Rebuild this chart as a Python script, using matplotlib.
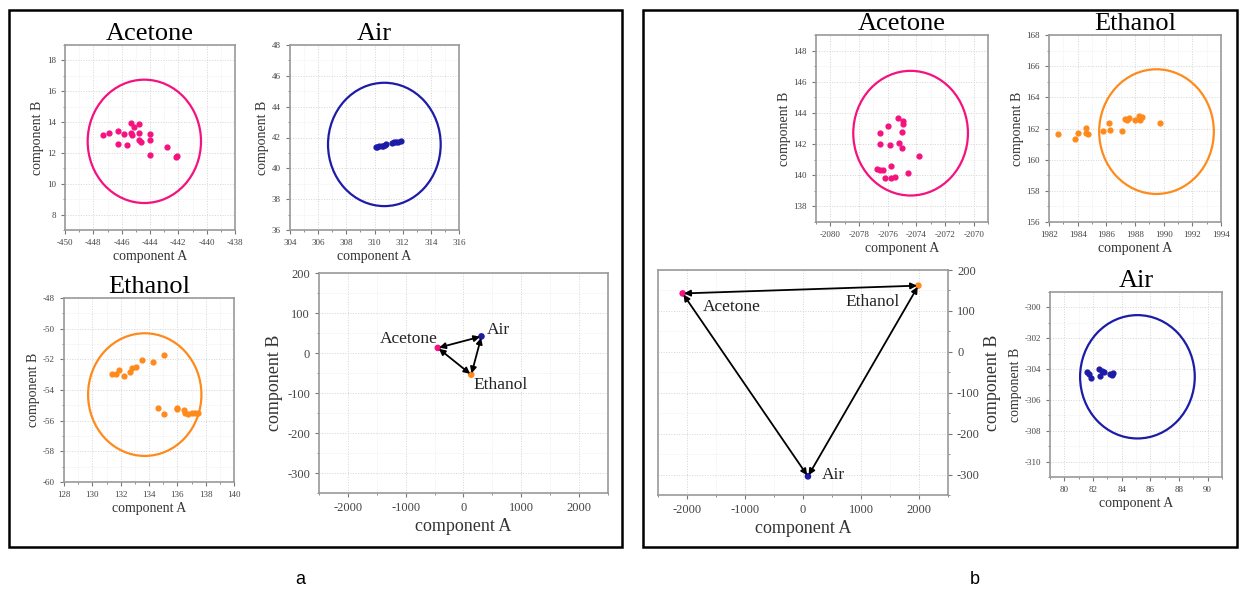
import numpy as np
import matplotlib
matplotlib.use("Agg")
import matplotlib.pyplot as plt
from matplotlib.patches import Circle, Rectangle
from matplotlib.ticker import MultipleLocator

plt.rcParams['font.family'] = ['Liberation Serif', 'DejaVu Serif']
plt.rcParams['axes.unicode_minus'] = False

PINK = '#f5117f'
BLUE = '#1c1ca8'
ORANGE = '#ff8a1c'

# ---- panel a: cluster points ----
a_acetone_x = [-447.29, -446.87, -446.28, -446.28, -445.84, -445.6, -445.34, -445.34, -445.29, -445.13,
               -444.8, -444.8, -444.8, -444.66, -444.0, -444.0, -444.0, -442.8, -442.19, -442.09]
a_acetone_y = [13.13, 13.30, 13.39, 12.57, 13.20, 12.50, 13.96, 13.30, 13.17, 13.67,
               13.87, 13.30, 12.83, 12.72, 13.20, 12.87, 11.87, 12.41, 11.74, 11.80]

a_air_x = [310.1, 310.2, 310.35, 310.5, 310.6, 310.75, 310.85, 311.25, 311.4, 311.55, 311.7, 311.85]
a_air_y = [41.38, 41.40, 41.43, 41.46, 41.48, 41.52, 41.55, 41.66, 41.70, 41.72, 41.74, 41.76]

a_ethanol_x = [131.40, 131.70, 131.89, 132.27, 132.69, 132.83, 133.11, 133.54, 134.29, 135.07,
               134.65, 135.05, 135.97, 136.0, 136.49, 136.53, 136.77, 137.03, 137.25, 137.48]
a_ethanol_y = [-52.96, -52.98, -52.70, -53.09, -52.81, -52.59, -52.48, -52.05, -52.16, -51.72,
               -55.19, -55.54, -55.23, -55.17, -55.32, -55.48, -55.58, -55.48, -55.48, -55.52]

# ---- panel b: cluster points ----
b_acetone_x = [-2076.55, -2076.53, -2075.95, -2075.86, -2075.31, -2074.92, -2074.92, -2075.01, -2075.24,
               -2074.97, -2073.82, -2076.71, -2076.53, -2076.30, -2075.79, -2076.21, -2075.75, -2075.47,
               -2074.6]
b_acetone_y = [142.71, 142.02, 143.18, 141.93, 143.66, 143.51, 143.31, 142.79, 142.10,
               141.78, 141.26, 140.38, 140.33, 140.33, 140.57, 139.84, 139.84, 139.90,
               140.16]

b_ethanol_x = [1982.61, 1983.84, 1984.05, 1984.59, 1984.59, 1984.71, 1985.79, 1986.19, 1986.24,
               1987.11, 1987.27, 1987.46, 1987.6, 1988.02, 1988.26, 1988.35, 1988.47, 1989.76]
b_ethanol_y = [161.62, 161.30, 161.73, 162.05, 161.68, 161.64, 161.85, 162.37, 161.90,
               161.85, 162.58, 162.54, 162.65, 162.54, 162.80, 162.54, 162.71, 162.33]

b_air_x = [81.57, 81.69, 81.89, 82.45, 82.49, 82.61, 82.79, 83.19, 83.30, 83.42]
b_air_y = [-304.21, -304.32, -304.60, -303.99, -304.43, -304.10, -304.21, -304.32, -304.38, -304.28]

# circle centres (cluster centres) and radius
names = ['Acetone', 'Air', 'Ethanol']
colors = [PINK, BLUE, ORANGE]
a_center_x = [-444.4, 310.7, 133.7]
a_center_y = [12.75, 41.55, -54.3]
b_center_x = [-2074.4, 85.1, 1989.5]
b_center_y = [142.7, -304.5, 161.8]
radius = 4.0

W, H = 1242, 589
fig = plt.figure(figsize=(W / 100, H / 100), dpi=100)


def px_axes(left, top, right, bottom):
    return fig.add_axes([left / W, 1 - bottom / H, (right - left) / W, (bottom - top) / H])


def style(ax, major, minor, tick_size):
    ax.xaxis.set_major_locator(MultipleLocator(major[0]))
    ax.xaxis.set_minor_locator(MultipleLocator(minor[0]))
    ax.yaxis.set_major_locator(MultipleLocator(major[1]))
    ax.yaxis.set_minor_locator(MultipleLocator(minor[1]))
    ax.grid(which='major', color='#d4d4d4', lw=0.7, ls=':')
    ax.grid(which='minor', color='#e6e6e6', lw=0.5, ls=':')
    ax.set_axisbelow(True)
    for s in ax.spines.values():
        s.set_color('#9a9a9a')
        s.set_linewidth(1.2)
    ax.tick_params(which='both', colors='#777777', labelcolor='#444444', labelsize=tick_size)
    ax.tick_params(which='major', length=3)
    ax.tick_params(which='minor', length=1.5)


def cluster(ax, xs, ys, cx, cy, color, title, xlim, ylim):
    ax.scatter(xs, ys, s=12, color=color, zorder=3)
    ax.add_patch(Circle((cx, cy), radius, fill=False, ec=color, lw=1.6, zorder=2))
    ax.set_xlim(*xlim)
    ax.set_ylim(*ylim)
    style(ax, (2, 2), (1, 1), 6.5)
    ax.set_title(title, fontsize=19, pad=1)
    ax.set_xlabel('component A', fontsize=10, color='#333333', labelpad=2)
    ax.set_ylabel('component B', fontsize=10, color='#333333', labelpad=2)


def summary(ax, cxs, cys, label_pos, right=False):
    for i, j in [(0, 1), (1, 2), (2, 0)]:
        ax.annotate('', xy=(cxs[i], cys[i]), xytext=(cxs[j], cys[j]),
                    arrowprops=dict(arrowstyle='<|-|>', color='black', lw=1.3,
                                    mutation_scale=9, shrinkA=1, shrinkB=1), zorder=4)
    ax.scatter(cxs, cys, s=14, color=colors, zorder=3)
    for n, (tx, ty) in zip(names, label_pos):
        ax.text(tx, ty, n, fontsize=12.5, ha='center', va='center', color='#222222')
    ax.set_xlim(-2500, 2500)
    ax.set_ylim(-350, 200)
    style(ax, (1000, 100), (500, 50), 9)
    ax.set_xlabel('component A', fontsize=13, color='#333333', labelpad=3)
    ax.set_ylabel('component B', fontsize=13, color='#333333', labelpad=3)
    if right:
        ax.yaxis.tick_right()
        ax.yaxis.set_label_position('right')
        ax.tick_params(which='both', left=False, right=True)


# panel a
ax = px_axes(65, 45, 235, 230)
cluster(ax, a_acetone_x, a_acetone_y, a_center_x[0], a_center_y[0], PINK, 'Acetone', (-450, -438), (7, 19))
ax = px_axes(290, 45, 459, 230)
cluster(ax, a_air_x, a_air_y, a_center_x[1], a_center_y[1], BLUE, 'Air', (304, 316), (36, 48))
ax = px_axes(64, 298, 234, 482)
cluster(ax, a_ethanol_x, a_ethanol_y, a_center_x[2], a_center_y[2], ORANGE, 'Ethanol', (128, 140), (-60, -48))
ax = px_axes(319, 273, 608, 493)
summary(ax, a_center_x, a_center_y, [(-940, 36), (600, 58), (640, -81)])

# panel b
ax = px_axes(816, 35, 988, 222)
cluster(ax, b_acetone_x, b_acetone_y, b_center_x[0], b_center_y[0], PINK, 'Acetone', (-2081, -2069), (137, 149))
ax = px_axes(1049, 35, 1221, 222)
cluster(ax, b_ethanol_x, b_ethanol_y, b_center_x[2], b_center_y[2], ORANGE, 'Ethanol', (1982, 1994), (156, 168))
ax = px_axes(1050, 292, 1222, 477)
cluster(ax, b_air_x, b_air_y, b_center_x[1], b_center_y[1], BLUE, 'Air', (79, 91), (-311, -299))
ax = px_axes(658, 270, 948, 495)
summary(ax, b_center_x, b_center_y, [(-1220, 110), (530, -302), (1200, 122)], right=True)

# panel frames and letters
for (l, t, r, b) in [(9, 10, 622, 547), (643, 10, 1237, 547)]:
    fig.patches.append(Rectangle((l / W, 1 - b / H), (r - l) / W, (b - t) / H,
                                 transform=fig.transFigure, fill=False, ec='black', lw=1.8))
fig.text(300 / W, 1 - 580 / H, 'a', fontsize=13, family='Liberation Sans', ha='center', va='center')
fig.text(975 / W, 1 - 580 / H, 'b', fontsize=13, family='Liberation Sans', ha='center', va='center')

fig.savefig('out.png', dpi=100)
